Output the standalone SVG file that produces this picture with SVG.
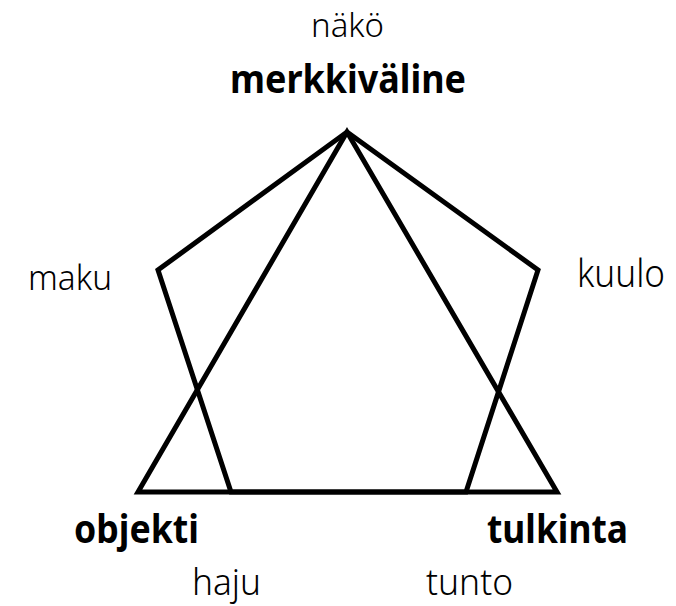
<svg xmlns="http://www.w3.org/2000/svg" width="676" height="606" viewBox="0 0 676 606">
<style>
.lt{font-family:"Noto Sans","Open Sans",sans-serif;font-weight:300;fill:#000}
.bd{font-family:"Noto Sans","Open Sans",sans-serif;font-weight:700;fill:#000}
.ln{fill:none;stroke:#000;stroke-width:5;stroke-linejoin:miter;stroke-miterlimit:10}
</style>
<rect width="676" height="606" fill="#fff"/>
<g id="connectors">
<polygon class="ln" points="347,132 538,270 466,492 231,492 158,270"/>
<polygon class="ln" points="347,132 557,492 138,492"/>
</g>
<g id="merkkivaline"><text class="bd" x="230" y="93" font-size="39" textLength="236" lengthAdjust="spacingAndGlyphs">merkkiväline</text></g>
<g id="objekti"><text class="bd" x="74" y="543" font-size="39" textLength="125" lengthAdjust="spacingAndGlyphs">objekti</text></g>
<g id="tulkinta"><text class="bd" x="487" y="543" font-size="39" textLength="141" lengthAdjust="spacingAndGlyphs">tulkinta</text></g>
<g id="nako"><text class="lt" x="311" y="37" font-size="33" textLength="73" lengthAdjust="spacingAndGlyphs">näkö</text></g>
<g id="maku"><text class="lt" x="28" y="290" font-size="34" textLength="84" lengthAdjust="spacingAndGlyphs">maku</text></g>
<g id="kuulo"><text class="lt" x="577" y="287" font-size="38" textLength="88" lengthAdjust="spacingAndGlyphs">kuulo</text></g>
<g id="haju"><text class="lt" x="192" y="595" font-size="36" textLength="69" lengthAdjust="spacingAndGlyphs">haju</text></g>
<g id="tunto"><text class="lt" x="426" y="595" font-size="36" textLength="87" lengthAdjust="spacingAndGlyphs">tunto</text></g>
</svg>
